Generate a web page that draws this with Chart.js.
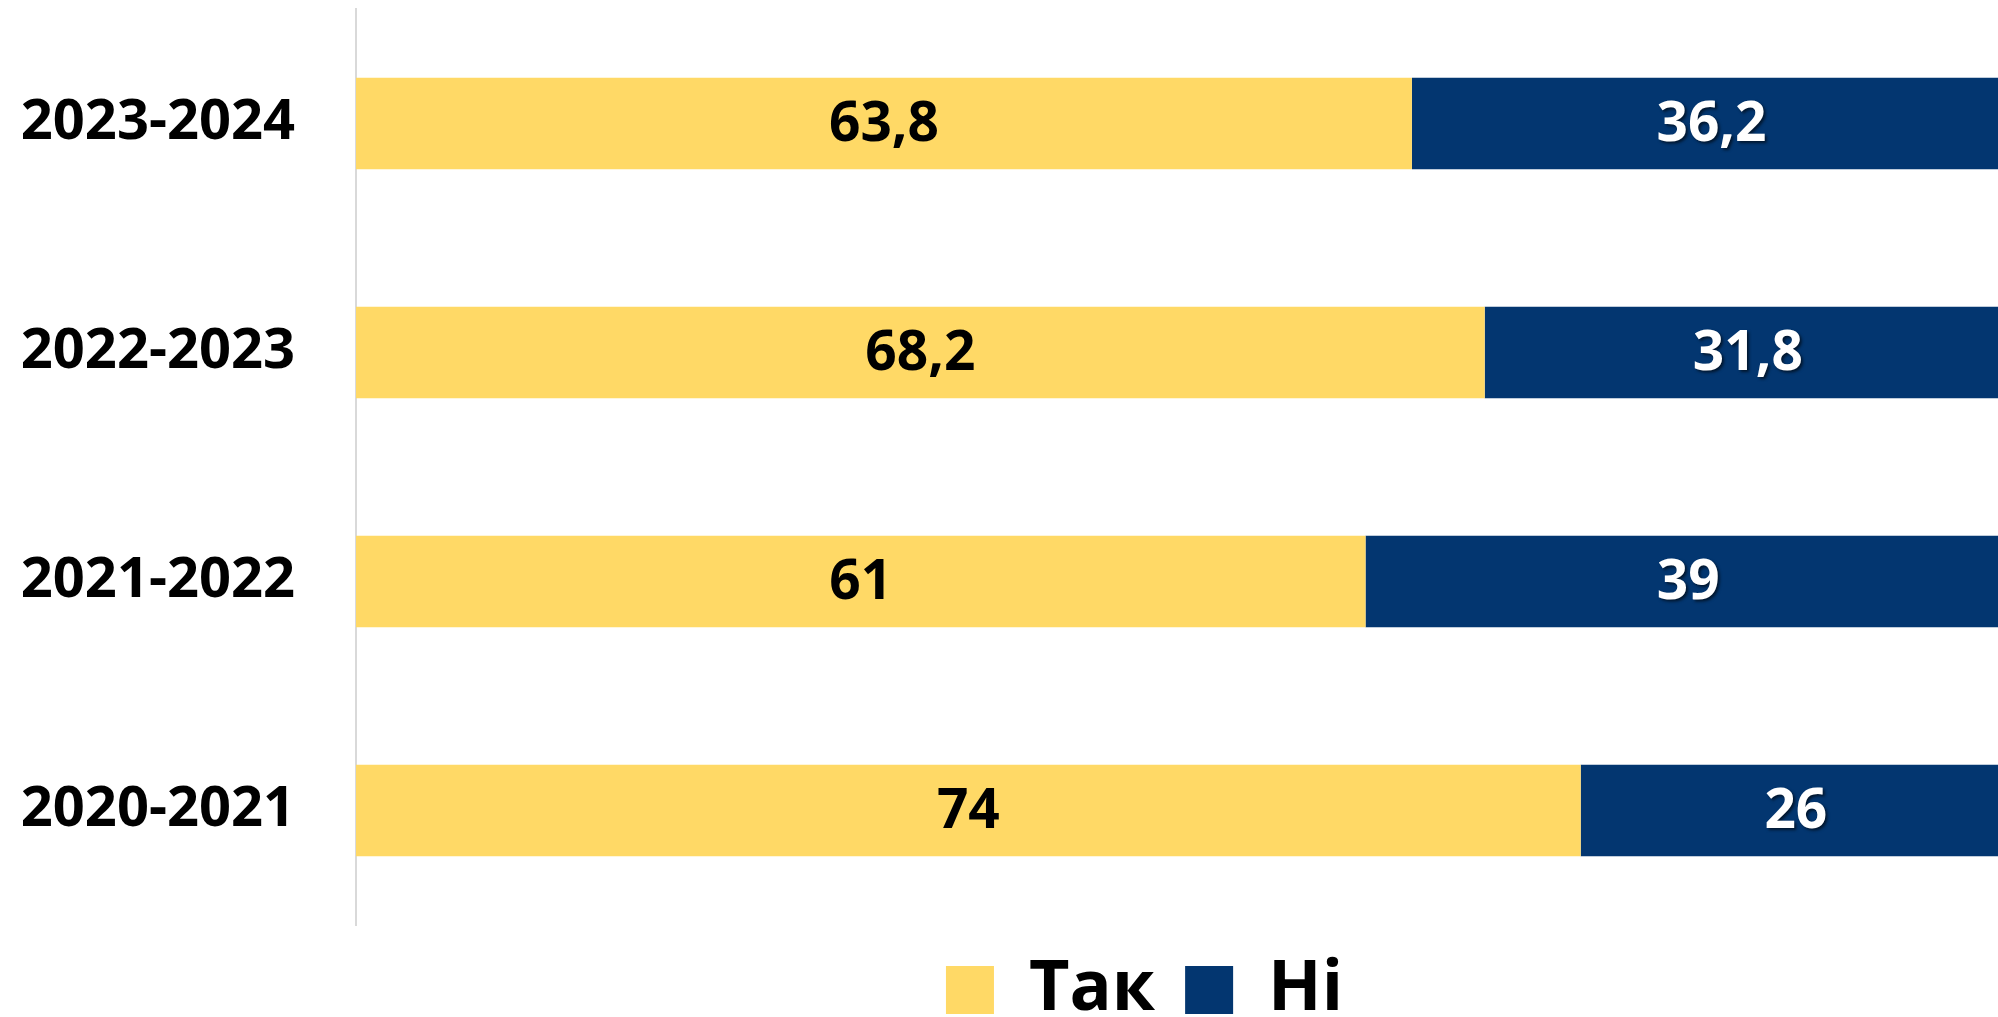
<!DOCTYPE html>
<html>
<head>
<meta charset="utf-8">
<script src="https://cdn.jsdelivr.net/npm/chart.js@4"></script>
<style>
  html, body { margin: 0; padding: 0; background: #fff; overflow: hidden; }
  #wrap { width: 2011px; height: 1017px; position: relative; }
</style>
</head>
<body>
<div id="wrap"><canvas id="chart"></canvas></div>
<script>
'use strict';

var years = ['2023-2024', '2022-2023', '2021-2022', '2020-2021'];
var yesValues = [63.8, 68.2, 61, 74];
var noValues = [36.2, 31.8, 39, 26];
var seriesNames = ['Так', 'Ні'];

var fontFamily = '"Open Sans", "Liberation Sans", sans-serif';

// draw the numbers in the middle of each bar piece
var valueLabels = {
  id: 'valueLabels',
  afterDatasetsDraw: function (chart) {
    var ctx = chart.ctx;
    chart.data.datasets.forEach(function (ds, i) {
      var meta = chart.getDatasetMeta(i);
      meta.data.forEach(function (bar, j) {
        var txt = String(ds.data[j]).replace('.', ',');
        var left = Math.min(bar.x, bar.base);
        var right = Math.max(bar.x, bar.base);
        ctx.save();
        ctx.font = 'bold 55px ' + fontFamily;
        ctx.textAlign = 'center';
        ctx.textBaseline = 'middle';
        if (i === 1) {
          ctx.shadowColor = 'rgba(0,0,0,0.6)';
          ctx.shadowOffsetX = 2;
          ctx.shadowOffsetY = 2;
          ctx.shadowBlur = 3;
          ctx.fillStyle = '#ffffff';
        } else {
          ctx.fillStyle = '#000000';
        }
        ctx.fillText(txt, (left + right) / 2, bar.y + 2);
        ctx.restore();
      });
    });
  }
};

// keep the legend strip a fixed height and nudge it left
var legendTweak = {
  id: 'legendTweak',
  beforeUpdate: function (chart) {
    var lg = chart.legend;
    if (lg && !lg._patched) {
      var fit = lg.fit;
      lg.fit = function () {
        fit.call(this);
        this.height = 92;
      };
      lg._patched = true;
    }
  },
  afterLayout: function (chart) {
    chart.legend.left -= 39;
    chart.legend.right -= 39;
  }
};

var ctx = document.getElementById('chart').getContext('2d');

new Chart(ctx, {
  type: 'bar',
  data: {
    labels: years,
    datasets: [{
      label: seriesNames[0],
      data: yesValues,
      backgroundColor: '#FFD966',
      borderWidth: 0
    }, {
      label: seriesNames[1],
      data: noValues,
      backgroundColor: '#033670',
      borderWidth: 0
    }]
  },
  options: {
    indexAxis: 'y',
    responsive: true,
    maintainAspectRatio: false,
    animation: false,
    categoryPercentage: 1,
    barPercentage: 0.4,
    layout: { padding: { top: 9, left: 0, right: 0, bottom: 0 } },
    scales: {
      x: {
        stacked: true,
        display: false,
        min: 0,
        max: 100
      },
      y: {
        stacked: true,
        grid: { display: false },
        border: { display: true, color: '#d9d9d9', width: 2 },
        ticks: {
          color: '#000',
          padding: 53,
          font: { family: fontFamily, size: 56, weight: 'bold' }
        },
        afterFit: function (scale) {
          scale.width = 356;
          scale.paddingTop = 0;
          scale.paddingBottom = 0;
        }
      }
    },
    plugins: {
      legend: {
        position: 'bottom',
        fullSize: false,
        labels: {
          color: '#000',
          boxWidth: 48,
          boxHeight: 48,
          padding: 30,
          font: { family: fontFamily, size: 70, weight: 'bold' }
        }
      },
      tooltip: { enabled: false }
    }
  },
  plugins: [valueLabels, legendTweak]
});
</script>
</body>
</html>
